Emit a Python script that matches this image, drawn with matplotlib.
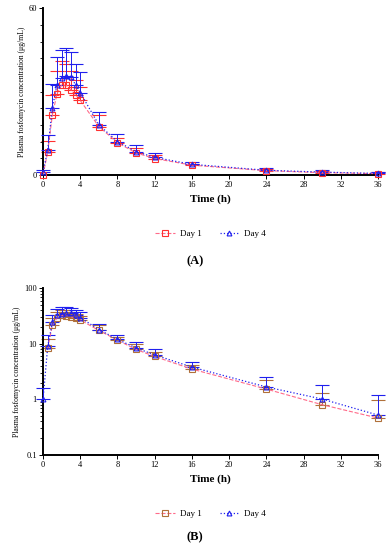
import matplotlib
matplotlib.use("Agg")
import matplotlib.pyplot as plt
import numpy as np
from matplotlib.ticker import MultipleLocator, FixedLocator, LogLocator, NullFormatter, FixedFormatter

plt.rcParams['font.family'] = ['Liberation Serif', 'DejaVu Serif']

time = [0, 0.5, 1, 1.5, 2, 2.5, 3, 3.5, 4, 6, 8, 10, 12, 16, 24, 30, 36]
day1 = [0, 8.3, 21.6, 29.2, 32.4, 32.2, 30.6, 28.8, 26.8, 17.4, 11.6, 7.9, 5.9, 3.5, 1.53, 0.80, 0.46]
day1_err = [0, 3.8, 7.0, 8.2, 8.6, 7.8, 6.8, 5.4, 5.0, 4.2, 1.8, 1.8, 1.2, 0.6, 0.7, 0.5, 0.5]
day4 = [1.0, 9.0, 24.2, 32.4, 35.0, 35.6, 35.2, 32.4, 29.6, 18.0, 12.0, 8.4, 6.3, 3.8, 1.67, 1.01, 0.52]
day4_err = [0.6, 5.4, 8.6, 10.0, 10.0, 10.0, 9.0, 7.4, 7.6, 4.8, 2.6, 2.2, 1.6, 0.8, 0.9, 0.77, 0.7]

xticks = [0, 4, 8, 12, 16, 20, 24, 28, 32, 36]
ylabel = "Plasma fosfomycin concentration (μg/mL)"

fig = plt.figure(figsize=(3.88, 5.5), dpi=100)

def style(ax):
    for s in ['top', 'right']:
        ax.spines[s].set_visible(False)
    for s in ['left', 'bottom']:
        ax.spines[s].set_linewidth(1.4)
    ax.set_xlim(0, 36)
    ax.set_xticks(xticks)
    ax.tick_params(axis='both', labelsize=6, length=3, width=0.7, pad=1.5)
    ax.tick_params(axis='both', which='minor', length=2, width=0.6)
    ax.set_xlabel("Time (h)", fontsize=8, fontweight='bold', labelpad=4)
    ax.set_ylabel(ylabel, fontsize=5.5, labelpad=2)

def draw(ax, log=False):
    t1 = np.array(time); d1 = np.array(day1); e1 = np.array(day1_err)
    t4 = np.array(time); d4 = np.array(day4); e4 = np.array(day4_err)
    if log:
        m1 = d1 > 0
        t1, d1, e1 = t1[m1], d1[m1], e1[m1]
        mcol1 = '#b0703a'
    else:
        mcol1 = '#ff3030'
    k1 = e1 > 0
    k4 = e4 > 0
    eb1 = ax.errorbar(t1[k1], d1[k1], yerr=[np.zeros(k1.sum()), e1[k1]], fmt='none', ecolor=mcol1,
                      elinewidth=0.7, capsize=5, capthick=0.8, zorder=2)
    eb4 = ax.errorbar(t4[k4], d4[k4], yerr=[np.zeros(k4.sum()), e4[k4]], fmt='none', ecolor='#2020ee',
                      elinewidth=0.7, capsize=5, capthick=0.8, zorder=3)
    for eb in (eb1, eb4):
        for art in eb.get_children():
            art.set_clip_on(False)
    l1, = ax.plot(t1, d1, linestyle='--', color='#ff6b8a', lw=0.8, marker='s', ms=4,
                  mfc='none', mec=mcol1, mew=0.8, label='Day 1', zorder=4, clip_on=False)
    l4, = ax.plot(t4, d4, linestyle=':', color='#2020ee', lw=0.9, marker='^', ms=3.5,
                  mfc='none', mec='#2020ee', mew=0.8, label='Day 4', zorder=5, clip_on=False)
    return l1, l4

# Panel A
axA = fig.add_axes([0.111, 0.682, 0.863, 0.303])
draw(axA)
style(axA)
axA.set_ylim(0, 60)
axA.yaxis.set_major_locator(FixedLocator([0, 60]))
axA.yaxis.set_minor_locator(MultipleLocator(6))
axA.legend(loc='upper center', bbox_to_anchor=(0.5, -0.28), ncol=2, frameon=False,
           fontsize=6.5, handlelength=2.2, columnspacing=2.0, handletextpad=0.5)
fig.text(0.503, 1 - 261/550, "(A)", ha='center', va='center', fontsize=9, fontweight='bold')

# Panel B
axB = fig.add_axes([0.111, 0.173, 0.863, 0.303])
draw(axB, log=True)
style(axB)
axB.set_yscale('log')
axB.set_ylim(0.1, 100)
axB.yaxis.set_major_locator(FixedLocator([0.1, 1, 10, 100]))
axB.yaxis.set_major_formatter(FixedFormatter(['0.1', '1', '10', '100']))
axB.yaxis.set_minor_locator(LogLocator(base=10, subs=np.arange(2, 10)))
axB.yaxis.set_minor_formatter(NullFormatter())
axB.tick_params(axis='both', labelsize=6)
axB.legend(loc='upper center', bbox_to_anchor=(0.5, -0.28), ncol=2, frameon=False,
           fontsize=6.5, handlelength=2.2, columnspacing=2.0, handletextpad=0.5)
fig.text(0.503, 1 - 537/550, "(B)", ha='center', va='center', fontsize=9, fontweight='bold')

fig.savefig("out.png", dpi=100)
